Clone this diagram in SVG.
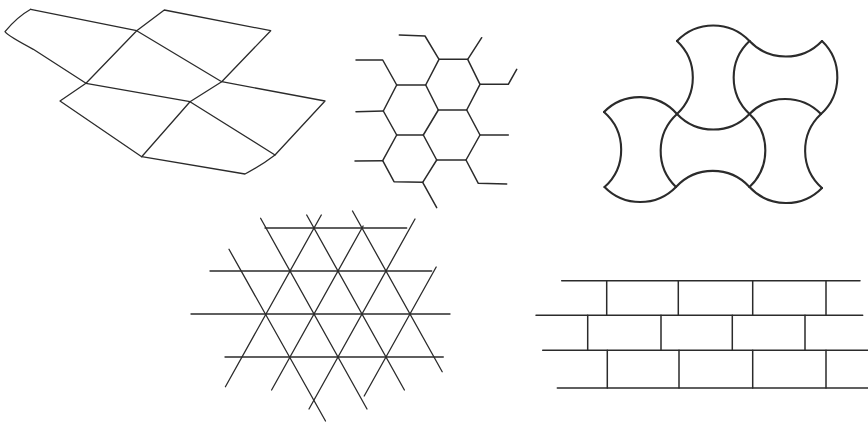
<svg xmlns="http://www.w3.org/2000/svg" width="868" height="427" viewBox="0 0 868 427">
<style>
.ln{fill:none;stroke:#2b2b2b;stroke-linecap:round;stroke-linejoin:round}
.thin{stroke-width:1.3}
.mid{stroke-width:1.5}
.thick{stroke-width:2.1}
</style>
<rect width="868" height="427" fill="#ffffff"/>
<g id="quad-net" class="ln thin">
<path d="M30.7,9.3 Q17,17 5,31.7 Q8,36 33.3,49.3 L86,83.3"/>
<path d="M30.7,9.3 L136.7,30.7 L164.3,10 L270.7,30.7 L221.7,81.7 L325,101 L275,155 Q262,165 245,174 L141.7,156.7 L60,101 L86,83.3 L136.7,30.7"/>
<path d="M136.7,30.7 L221.7,81.7 L190,101.7 L86,83.3"/>
<path d="M190,101.7 L141.7,156.7"/>
<path d="M190,101.7 L275,155"/>
</g>
<g id="hexagons" class="ln mid">
<path d="M439,59.3 L467.7,59.3 L480,84.3 L466.7,110 L438.3,110 L425.7,85 Z"/>
<path d="M425.7,85 L396.7,85 L383.3,111 L396.7,135 L423.3,135 L438.3,110"/>
<path d="M466.7,110 L480,135 L466,160 L436.7,160 L423.3,135"/>
<path d="M396.7,135 L382.7,160.7 L394,181.7 L422.7,182.3 L436.7,160"/>
<path d="M439,59.3 L425,36 L399.3,35"/>
<path d="M467.7,59.3 L481.7,37.7"/>
<path d="M480,84.3 L508.3,84.3 L516.7,69.3"/>
<path d="M396.7,85 L382.7,60 L356,60"/>
<path d="M383.3,111 L356,111.7"/>
<path d="M480,135 L508.3,135"/>
<path d="M382.7,160.7 L355,161"/>
<path d="M466,160 L478.3,183.3 L506.7,184"/>
<path d="M422.7,182.3 L436.7,207.7"/>
</g>
<g id="arc-tiles" class="ln thick">
<path d="M677,41 A50,50 0 0 1 749.5,41"/>
<path d="M677,41 A50,50 0 0 1 677,114"/>
<path d="M749.5,41 A50,50 0 0 0 749.5,114"/>
<path d="M677,114 A50,50 0 0 0 749.5,114"/>
<path d="M749.5,41 A50,50 0 0 0 822,41"/>
<path d="M822,41 A50,50 0 0 1 821,114"/>
<path d="M749.5,114 A50,50 0 0 1 821,114"/>
<path d="M604,112 A50,50 0 0 1 677,114"/>
<path d="M604,112 A50,50 0 0 1 604.5,187"/>
<path d="M677,114 A50,50 0 0 0 676,187"/>
<path d="M604.5,187 A50,50 0 0 0 676,187"/>
<path d="M749.5,114 A50,50 0 0 1 749.5,187"/>
<path d="M676,187 A50,50 0 0 1 749.5,187"/>
<path d="M821,114 A50,50 0 0 0 822,188"/>
<path d="M749.5,187 A50,50 0 0 0 822,188"/>
</g>
<g id="triangles" class="ln thin">
<path d="M265,228 L406.7,228"/>
<path d="M210,271 L431.7,271"/>
<path d="M191,314 L450,314"/>
<path d="M225,357 L443.3,357"/>
<path d="M229,249.3 L325.5,421"/>
<path d="M260.6,218.3 L367,409"/>
<path d="M306.7,215 L404.4,390"/>
<path d="M352.5,211 L442.2,371.7"/>
<path d="M321.3,215 L225.4,386.7"/>
<path d="M363.1,226 L271.6,390"/>
<path d="M415,219 L309,409"/>
<path d="M436.2,267 L364.2,396"/>
</g>
<g id="bricks" class="ln mid">
<path d="M561.7,280.7 L860,280.7"/>
<path d="M536,315.3 L862.7,315.3"/>
<path d="M542.7,350.3 L868,350.3"/>
<path d="M557.3,388 L868,388"/>
<path d="M606.7,280.7 V315.3 M678.3,280.7 V315.3 M752.7,280.7 V315.3 M826,280.7 V315.3"/>
<path d="M587.7,315.3 V350.3 M661,315.3 V350.3 M732.3,315.3 V350.3 M805,315.3 V350.3"/>
<path d="M607.3,350.3 V388 M679,350.3 V388 M752.7,350.3 V388 M826,350.3 V388"/>
</g>
</svg>
